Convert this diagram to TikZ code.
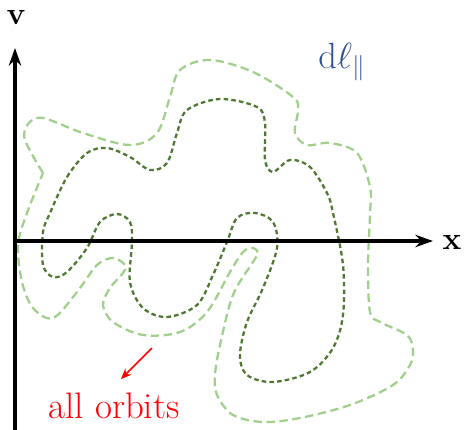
\documentclass[tikz,border=0pt]{standalone}
\usepackage{amsmath}
\usetikzlibrary{arrows.meta, positioning}
\definecolor{lightorbit}{RGB}{160,208,140}
\definecolor{darkorbit}{RGB}{80,120,50}
\definecolor{myblue}{RGB}{50,80,150}
\tikzset{
  axis/.style={-{Stealth[length=10pt,width=7pt]}, line width=2pt, color=black},
  outerorbit/.style={draw=lightorbit, line width=1.3pt, dash pattern=on 4.8pt off 2.6pt},
  innerorbit/.style={draw=darkorbit, line width=1.3pt, dash pattern=on 2.6pt off 1.8pt},
  redarrow/.style={-{Stealth[length=6pt,width=5pt]}, line width=0.9pt, color=red},
  axlabel/.style={font=\fontsize{18}{20}\selectfont\bfseries}
}

\begin{document}
\begin{tikzpicture}[x=0.02cm, y=-0.02cm]
  \useasboundingbox (0,0) rectangle (464,430);
  % Axes
  \coordinate (origin) at (15,241);
  \coordinate (vbot) at (15,430);
  \coordinate (vtop) at (15,48);
  \coordinate (xend) at (433,241);
  \node[axlabel] (vlab) at (16,18) {v};
  \node[axlabel] (xlab) at (452,242) {x};
  % Outer orbit
  \draw[outerorbit] plot[smooth, tension=0.55] coordinates {
    (43,173) (25,140) (28,124) (43,118) (83,133) (130,145) (157,133) (170,97)
    (180,70) (210,60) (253,72) (293,97) (298,110) (295,133) (307,145)
    (330,143) (357,153) (370,187) (370,215) (368,265) (370,312) (380,322)
    (407,335) (413,350) (410,365) (393,385) (350,405) (300,418) (263,422)
    (233,415) (217,395) (215,375) (220,345) (233,295) (253,262) (258,253)
    (253,248) (243,252) (230,272) (207,312) (180,332) (143,335) (113,322)
    (103,305) (110,288) (123,273) (125,265) (113,258) (97,265) (77,292)
    (53,318) (33,308) (22,282) (18,245) (27,213) (43,173)};
  % Inner orbit
  \draw[innerorbit] plot[smooth cycle, tension=0.55] coordinates {
    (50,213) (67,177) (87,153) (107,148) (130,157) (150,170) (167,163)
    (177,133) (187,110) (220,99) (257,107) (265,123) (265,160) (273,172)
    (290,160) (310,167) (327,193) (333,213) (343,265) (343,315) (333,348)
    (310,372) (273,382) (247,375) (240,355) (247,322) (263,288) (277,248)
    (273,222) (255,213) (237,218) (227,242) (213,275) (197,305) (167,317)
    (143,308) (130,282) (132,242) (130,222) (117,214) (100,222) (87,248)
    (67,272) (53,277) (43,265) (43,232)};
  % Axes on top
  \draw[axis] (vbot) -- (vtop);
  \draw[axis] (origin) -- (xend);
  % Labels
  \node[font=\fontsize{20}{24}\selectfont, text=myblue] (dl) at (342,62) {$\mathrm{d}\ell_{\parallel}$};
  \node[font=\fontsize{21}{25}\selectfont, text=red] (orbits) at (114,406) {all orbits};
  \coordinate (redstart) at (152,348);
  \coordinate (redend) at (121,379);
  \draw[redarrow] (redstart) -- (redend);
\end{tikzpicture}
\end{document}
